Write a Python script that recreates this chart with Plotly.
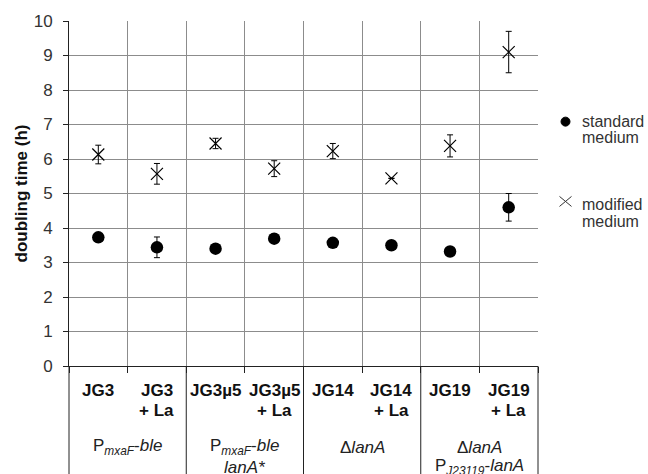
import plotly.graph_objects as go

categories = ["JG3", "JG3<br>+ La", "JG3µ5", "JG3µ5<br>+ La", "JG14", "JG14<br>+ La", "JG19", "JG19<br>+ La"]
standard = [3.73, 3.44, 3.40, 3.69, 3.57, 3.50, 3.32, 4.60]
standard_err = [0.0, 0.30, 0.0, 0.13, 0.0, 0.0, 0.0, 0.40]
modified = [6.13, 5.57, 6.45, 5.72, 6.23, 5.44, 6.38, 9.10]
modified_err = [0.27, 0.30, 0.15, 0.23, 0.22, 0.0, 0.32, 0.60]
groups = ["P<sub><i>mxaF</i></sub>-<i>ble</i>",
          "P<sub><i>mxaF</i></sub>-<i>ble</i><br><i>lanA*</i>",
          "Δ<i>lanA</i>",
          "Δ<i>lanA</i><br>P<sub><i>J23119</i></sub>-<i>lanA</i>"]
legend_names = ["standard<br>medium", "modified<br>medium"]
y_ticks = [0, 1, 2, 3, 4, 5, 6, 7, 8, 9, 10]

FONT = "Liberation Sans, Arial, sans-serif"
W, H = 648, 474
ML, MR, MT, MB = 69, 110, 18, 108
PW, PH = W - ML - MR, H - MT - MB
xs = [i + 0.5 for i in range(len(categories))]
n = len(categories)


def py2paper(py):
    return (H - MB - py) / PH


def px2paper(px):
    return (px - ML) / PW


fig = go.Figure()
fig.add_trace(go.Scatter(
    x=xs, y=standard, mode="markers", showlegend=False,
    marker=dict(symbol="circle", size=12.5, color="black"),
    error_y=dict(type="data", array=standard_err, color="black", thickness=1, width=3),
))
fig.add_trace(go.Scatter(
    x=xs, y=modified, mode="markers", showlegend=False,
    marker=dict(symbol="x-thin-open", size=12, color="black", line=dict(color="black", width=1.2)),
    error_y=dict(type="data", array=modified_err, color="black", thickness=1, width=3),
))

fig.update_layout(
    width=W, height=H,
    margin=dict(l=ML, r=MR, t=MT, b=MB),
    paper_bgcolor="white", plot_bgcolor="white",
    font=dict(family=FONT, size=17, color="#222"),
    showlegend=False,
)
fig.update_xaxes(
    range=[0, n], tickmode="array", tickvals=list(range(n + 1)), showticklabels=False,
    ticks="outside", ticklen=6, tickcolor="#222", tickwidth=1,
    showgrid=True, gridcolor="#8c8c8c", gridwidth=1,
    showline=True, linecolor="#222", linewidth=1, zeroline=False,
)
fig.update_yaxes(
    range=[0, 10], tickmode="array", tickvals=y_ticks,
    ticks="outside", ticklen=5, tickcolor="#222", ticklabelstandoff=7,
    showgrid=True, gridcolor="#8c8c8c", gridwidth=1,
    showline=True, linecolor="#222", linewidth=1, zeroline=False,
    tickfont=dict(size=17, color="#333"),
    title=dict(text="<b>doubling time (h)</b>", font=dict(size=17, color="#111"), standoff=1),
)

# category labels (each line separately, centred)
cat_line_y = [391, 411]
for x, c in zip(xs, categories):
    for li, line in enumerate(c.split("<br>")):
        fig.add_annotation(x=x, y=py2paper(cat_line_y[li]), xref="x", yref="paper",
                           text="<b>" + line + "</b>", showarrow=False,
                           yanchor="middle", xanchor="center",
                           font=dict(size=17, color="#111"))
# group labels and separator lines
grp_line_y = [448, 468]
gsize = n // len(groups)
for gi, g in enumerate(groups):
    for li, line in enumerate(g.split("<br>")):
        fig.add_annotation(x=gi * gsize + gsize / 2, y=py2paper(grp_line_y[li]), xref="x", yref="paper",
                           text=line, showarrow=False, yanchor="middle", xanchor="center",
                           font=dict(size=17, color="#222"))
for b in range(0, n + 1, gsize):
    fig.add_shape(type="line", xref="paper", yref="paper",
                  x0=b / n, x1=b / n, y0=0, y1=py2paper(H + 2),
                  line=dict(color="#222", width=1))

# legend (manual)
lx = px2paper(565.5)
ly = [py2paper(119.5), py2paper(200)]
fig.add_shape(type="circle", xref="paper", yref="paper", xsizemode="pixel", ysizemode="pixel",
              xanchor=lx, yanchor=ly[0], x0=-4.5, x1=4.5, y0=-4.5, y1=4.5,
              fillcolor="black", line=dict(color="black", width=1))
for s in (1, -1):
    fig.add_shape(type="line", xref="paper", yref="paper", xsizemode="pixel", ysizemode="pixel",
                  xanchor=lx, yanchor=ly[1], x0=-6, x1=6, y0=-5 * s, y1=5 * s,
                  line=dict(color="#333", width=1))
for name, yy in zip(legend_names, [119, 203]):
    for li, line in enumerate(name.split("<br>")):
        fig.add_annotation(x=px2paper(580), y=py2paper(yy + 17 * li), xref="paper", yref="paper",
                           text=line, showarrow=False, xanchor="left", yanchor="middle",
                           font=dict(size=16, color="#333"))

fig.write_html("out.html", config={"displayModeBar": False},
               post_script="document.body.style.margin='0';document.body.style.overflow='hidden';")
